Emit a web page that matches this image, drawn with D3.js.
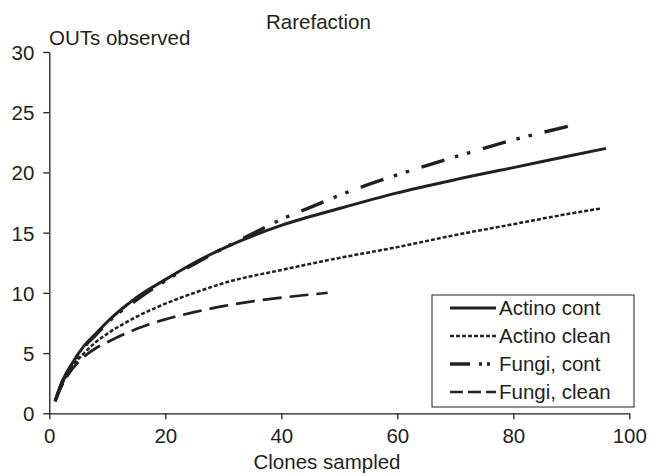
<!DOCTYPE html>
<html>
<head>
<meta charset="utf-8">
<script src="https://cdn.jsdelivr.net/npm/d3@7"></script>
<style>
  body { margin: 0; background: #fff; }
  text { font-family: "Liberation Sans", Arial, sans-serif; fill: #231f20; }
</style>
</head>
<body>
<script>
// values
var clones_actinoCont = [1, 2, 4, 6, 8, 10, 15, 20, 25, 30, 40, 50, 60, 70, 80, 90, 96];
var otus_actinoCont   = [1, 2.4, 4.2, 5.6, 6.6, 7.6, 9.6, 11.1, 12.5, 13.7, 15.6, 17.0, 18.3, 19.4, 20.4, 21.4, 22];

var clones_actinoClean = [1, 2, 4, 6, 8, 10, 15, 20, 25, 30, 40, 50, 60, 70, 80, 90, 95];
var otus_actinoClean   = [1, 2.2, 3.9, 5.0, 5.9, 6.6, 8.0, 9.1, 10.0, 10.8, 11.9, 12.9, 13.8, 14.8, 15.7, 16.6, 17.0];

var clones_fungiCont = [1, 2, 4, 6, 8, 10, 15, 20, 25, 30, 35, 40, 45, 50, 60, 70, 80, 91];
var otus_fungiCont   = [1, 2.3, 4.1, 5.5, 6.5, 7.5, 9.4, 11.0, 12.4, 13.7, 14.9, 16.1, 17.1, 18.1, 19.8, 21.3, 22.7, 24.0];

var clones_fungiClean = [1, 2, 4, 6, 8, 10, 15, 20, 25, 30, 35, 40, 48];
var otus_fungiClean   = [1, 2.1, 3.7, 4.7, 5.4, 5.9, 7.0, 7.8, 8.4, 8.9, 9.3, 9.6, 10.0];

var seriesNames = ["Actino cont", "Actino clean", "Fungi, cont", "Fungi, clean"];
var xTicks = [0, 20, 40, 60, 80, 100];
var yTicks = [0, 5, 10, 15, 20, 25, 30];

var ink = "#231f20";
var fs = 20.5;
var width = 650, height = 476;

var svg = d3.select("body").append("svg")
    .attr("width", width).attr("height", height);

// scales
var x = d3.scaleLinear().domain([0, 100]).range([49.3, 629.3]);
var y = d3.scaleLinear().domain([0, 30]).range([413.3, 52]);

// styles per series: plot dash / legend dash
var styles = [
  {w: 3,   dash: null,                    legDash: null},
  {w: 2.5, dash: "4,2",                   legDash: "4,2"},
  {w: 3.4, dash: "24,11,3.5,9,3.5,13",     legDash: "20,9,3,5,3,30"},
  {w: 2.7, dash: "19,8",                  legDash: "13,5"}
];

var series = [
  d3.zip(clones_actinoCont, otus_actinoCont),
  d3.zip(clones_actinoClean, otus_actinoClean),
  d3.zip(clones_fungiCont, otus_fungiCont),
  d3.zip(clones_fungiClean, otus_fungiClean)
];

// axes
var xAxis = d3.axisBottom(x).tickValues(xTicks).tickSize(6).tickSizeOuter(0).tickPadding(9);
var yAxis = d3.axisLeft(y).tickValues(yTicks).tickSize(6).tickSizeOuter(0).tickPadding(9);

var gx = svg.append("g").attr("transform", "translate(0," + y(0) + ")").call(xAxis);
var gy = svg.append("g").attr("transform", "translate(" + x(0) + ",0)").call(yAxis);

[gx, gy].forEach(function(g){
  g.selectAll("path, line").attr("stroke", ink).attr("stroke-width", 1.3);
  g.selectAll("text").attr("font-size", fs).attr("fill", ink)
    .style("font-family", "'Liberation Sans', Arial, sans-serif");
});
gy.selectAll("text").attr("dy", "0.36em");

// lines
var line = d3.line()
    .x(function(d){ return x(d[0]); })
    .y(function(d){ return y(d[1]); })
    .curve(d3.curveMonotoneX);

series.forEach(function(s, i){
  svg.append("path")
    .attr("d", line(s))
    .attr("fill", "none")
    .attr("stroke", ink)
    .attr("stroke-width", styles[i].w)
    .attr("stroke-dasharray", styles[i].dash);
});

// titles
svg.append("text").attr("x", 266).attr("y", 29).attr("font-size", fs).text("Rarefaction");
svg.append("text").attr("x", 49).attr("y", 45).attr("font-size", fs).text("OUTs observed");
svg.append("text").attr("x", 327).attr("y", 469).attr("font-size", fs)
  .attr("text-anchor", "middle").text("Clones sampled");

// legend
var leg = svg.append("g");
leg.append("rect")
  .attr("x", 432).attr("y", 295).attr("width", 202).attr("height", 112)
  .attr("fill", "#fff").attr("stroke", ink).attr("stroke-width", 1);

seriesNames.forEach(function(name, i){
  var ry = 308 + i * 28;
  leg.append("line")
    .attr("x1", 450).attr("x2", 496).attr("y1", ry).attr("y2", ry)
    .attr("stroke", ink)
    .attr("stroke-width", styles[i].w)
    .attr("stroke-dasharray", styles[i].legDash);
  leg.append("text").attr("x", 499).attr("y", ry + 7).attr("font-size", fs).text(name);
});
</script>
</body>
</html>
